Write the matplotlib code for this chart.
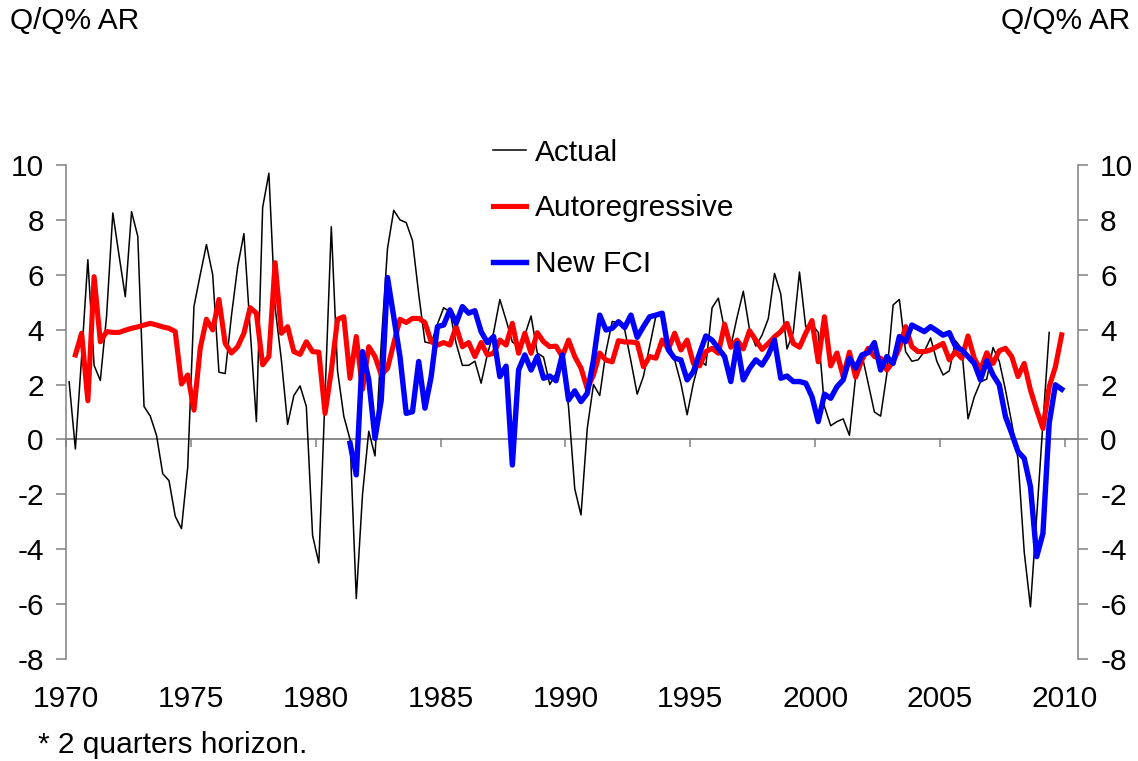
import numpy as np
import matplotlib
matplotlib.use("Agg")
import matplotlib.pyplot as plt

# quarterly GDP growth, Q/Q% annual rate, first obs 1970Q1
actual = [
    2.1, -0.35, 3.0, 6.55, 2.7, 2.15, 4.5, 8.25, 6.7, 5.2,
    8.3, 7.4, 1.2, 0.85, 0.15, -1.25, -1.5, -2.8, -3.25, -1.0,
    4.85, 6.0, 7.1, 6.0, 2.45, 2.4, 4.5, 6.3, 7.5, 4.0,
    0.65, 8.45, 9.7, 4.8, 2.9, 0.55, 1.6, 1.95, 1.2, -3.5,
    -4.5, 1.6, 7.75, 2.5, 0.85, 0.0, -5.8, -2.0, 0.3, -0.6,
    3.5, 6.95, 8.35, 8.0, 7.9, 7.25, 5.3, 3.55, 3.5, 4.2,
    4.8, 4.65, 3.5, 2.7, 2.7, 2.85, 2.05, 3.1, 3.9, 5.1,
    4.35, 3.55, 3.4, 3.8, 4.5, 3.15, 3.0, 2.0, 2.4, 3.0,
    1.2, -1.8, -2.75, 0.4, 2.0, 1.6, 3.2, 4.3, 4.25, 4.0,
    2.85, 1.65, 2.3, 3.4, 4.5, 4.6, 3.6, 2.9, 2.05, 0.9,
    2.05, 2.9, 2.7, 4.8, 5.15, 4.0, 3.4, 4.45, 5.4, 4.0,
    3.4, 3.8, 4.4, 6.05, 5.3, 3.3, 3.9, 6.1, 4.1, 4.2,
    3.9, 1.2, 0.5, 0.65, 0.75, 0.15, 2.3, 3.1, 2.05, 1.0,
    0.85, 2.4, 4.9, 5.1, 3.2, 2.85, 2.9, 3.2, 3.7, 2.85,
    2.35, 2.5, 3.6, 3.3, 0.75, 1.55, 2.1, 2.2, 3.35, 2.85,
    1.8, 0.6, -0.7, -4.1, -6.1, -2.8, 0.6, 3.9,
]
actual_start = 0  # quarters after 1970Q1

# autoregressive forecast, first obs 1970Q2
autoregressive = [
    3.08, 3.87, 1.41, 5.93, 3.56, 3.93, 3.9, 3.9, 3.98, 4.05,
    4.1, 4.17, 4.23, 4.17, 4.1, 4.05, 3.93, 2.02, 2.35, 1.07,
    3.32, 4.38, 3.99, 5.1, 3.5, 3.15, 3.38, 3.87, 4.8, 4.6,
    2.72, 3.02, 6.44, 3.87, 4.11, 3.2, 3.1, 3.56, 3.2, 3.18,
    0.95, 2.5, 4.38, 4.47, 2.23, 3.75, 1.83, 3.38, 3.02, 2.35,
    2.59, 3.5, 4.38, 4.26, 4.41, 4.41, 4.26, 3.56, 3.44, 3.53,
    3.44, 4.11, 3.38, 3.53, 3.02, 3.53, 3.08, 3.14, 3.62, 3.44,
    4.23, 3.14, 3.87, 3.14, 3.89, 3.56, 3.38, 3.4, 3.02, 3.62,
    3.02, 2.6, 1.85, 2.35, 3.15, 2.89, 2.83, 3.6, 3.55, 3.55,
    3.52, 2.65, 3.02, 2.96, 3.62, 3.3, 3.87, 3.26, 3.62, 2.77,
    2.68, 3.2, 3.32, 3.14, 4.2, 3.36, 3.62, 3.3, 3.96, 3.62,
    3.28, 3.5, 3.74, 3.93, 4.23, 3.5, 3.36, 3.87, 4.33, 2.83,
    4.47, 2.68, 3.15, 2.29, 3.18, 2.27, 2.9, 3.32, 3.02, 2.96,
    2.53, 2.84, 3.32, 4.11, 3.38, 3.2, 3.2, 3.26, 3.38, 3.5,
    2.9, 3.2, 2.96, 3.77, 2.96, 2.53, 3.16, 2.77, 3.23, 3.32,
    3.02, 2.29, 2.77, 1.8, 1.07, 0.4, 1.92, 2.65, 3.81,
]
ar_start = 1

# new FCI based forecast, first obs 1981Q2
new_fci = [
    -0.14, -1.29, 3.2, 2.17, 0.04, 1.44, 5.9, 4.47, 3.02, 0.95,
    1.01, 2.84, 1.14, 2.29, 4.11, 4.17, 4.72, 4.23, 4.84, 4.6,
    4.69, 3.93, 3.53, 3.75, 2.29, 2.67, -0.93, 2.53, 3.08, 2.53,
    3.02, 2.23, 2.31, 2.14, 3.08, 1.44, 1.77, 1.38, 1.68, 2.9,
    4.53, 3.99, 4.05, 4.29, 4.08, 4.53, 3.72, 4.11, 4.47, 4.53,
    4.6, 3.26, 2.96, 2.9, 2.17, 2.47, 3.14, 3.77, 3.62, 3.32,
    3.02, 2.11, 3.5, 2.17, 2.59, 2.9, 2.71, 3.08, 3.62, 2.23,
    2.31, 2.11, 2.11, 2.05, 1.56, 0.65, 1.65, 1.5, 1.92, 2.17,
    2.96, 2.6, 3.08, 3.16, 3.53, 2.53, 3.02, 2.77, 3.75, 3.56,
    4.17, 4.05, 3.93, 4.11, 3.96, 3.8, 3.89, 3.38, 3.26, 3.02,
    2.77, 2.17, 2.87, 2.35, 1.99, 0.83, 0.22, -0.44, -0.69, -1.72,
    -4.27, -3.42, 0.59, 1.99, 1.83,
]
fci_start = 45

year_ticks = [1970, 1975, 1980, 1985, 1990, 1995, 2000, 2005, 2010]
y_ticks = [-8, -6, -4, -2, 0, 2, 4, 6, 8, 10]


def quarter_dates(start, n):
    # plot each quarter in the middle of its slot
    return 1970 + (np.arange(n) + start + 0.5) / 4


FS = 21.5
plt.rcParams["font.family"] = ["Liberation Sans", "DejaVu Sans"]
plt.rcParams["axes.unicode_minus"] = False
plt.rcParams["font.size"] = FS

fig = plt.figure(figsize=(11.38, 7.61), dpi=100)
ax = fig.add_axes([0.058, 0.134, 0.8893, 0.6492])

grey = "#808080"

ax.plot(quarter_dates(actual_start, len(actual)), actual,
        color="black", lw=1.1, label="Actual", zorder=3)
ax.plot(quarter_dates(ar_start, len(autoregressive)), autoregressive,
        color="#FF0000", lw=3.7, label="Autoregressive", zorder=4)
ax.plot(quarter_dates(fci_start, len(new_fci)), new_fci,
        color="#0000FF", lw=3.9, label="New FCI", zorder=5)

ax.set_xlim(1970, 2010.53)
ax.set_ylim(-8, 10)

# y axes on both sides
ax.set_yticks(y_ticks)
ax.tick_params(axis="y", which="both", left=True, right=True,
               labelleft=True, labelright=True, direction="out",
               length=7, width=1.1, color=grey, pad=9, labelsize=FS)
for side in ["left", "right"]:
    ax.spines[side].set_color(grey)
    ax.spines[side].set_linewidth(1.1)
ax.spines["top"].set_visible(False)

# x axis runs along zero, labels stay at the bottom
ax.spines["bottom"].set_position(("data", 0))
ax.spines["bottom"].set_color(grey)
ax.spines["bottom"].set_linewidth(1.3)
ax.set_xticks(year_ticks)
ax.tick_params(axis="x", direction="out", length=6, width=1.1,
               color=grey, labelbottom=False)

sec = ax.secondary_xaxis("bottom")
sec.set_xticks(year_ticks)
sec.spines["bottom"].set_visible(False)
sec.tick_params(axis="x", length=0, pad=19, labelsize=FS)

ax.legend(loc="upper left", bbox_to_anchor=(0.4332, 0.818),
          bbox_transform=fig.transFigure, frameon=False, fontsize=FS,
          handlelength=1.1, handletextpad=0.3, labelspacing=0.93,
          borderpad=0, borderaxespad=0)

fig.text(0.009, 0.972, "Q/Q% AR", ha="left", va="center", fontsize=FS)
fig.text(0.993, 0.972, "Q/Q% AR", ha="right", va="center", fontsize=FS)
fig.text(0.0334, 0.021, "* 2 quarters horizon.", ha="left", va="center",
         fontsize=FS)

fig.savefig("out.png", dpi=100)
